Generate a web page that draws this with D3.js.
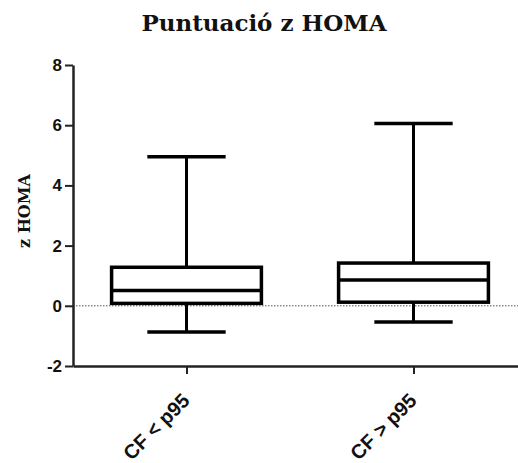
<!DOCTYPE html>
<html>
<head>
<meta charset="utf-8">
<script src="https://cdn.jsdelivr.net/npm/d3@7"></script>
<style>
  body { margin: 0; background: #fff; }
  svg { display: block; }
</style>
</head>
<body>
<svg id="chart" width="518" height="463"></svg>
<script>
// data
var groups = ["CF < p95", "CF > p95"];
var mins    = [-0.87, -0.54];
var q1s     = [0.08, 0.12];
var medians = [0.51, 0.86];
var q3s     = [1.28, 1.42];
var maxs    = [4.95, 6.06];
var yTicks  = [-2, 0, 2, 4, 6, 8];

var title = "Puntuació z HOMA";
var yLabel = "z HOMA";

var width = 518, height = 463;
var padLeft = 73, padTop = 65, axisBottom = 366;

var svg = d3.select("#chart");

var x = d3.scalePoint()
    .domain(groups)
    .range([padLeft, 527])
    .padding(0.5);

var y = d3.scaleLinear()
    .domain([-2, 8])
    .range([axisBottom, padTop]);

var boxW = x.step() * 0.66;
var capW = x.step() * 0.345;

var rows = groups.map((g, i) => ({
    name: g, min: mins[i], q1: q1s[i], med: medians[i], q3: q3s[i], max: maxs[i]
}));

// dotted zero line
svg.append("line")
    .attr("x1", padLeft).attr("x2", width)
    .attr("y1", y(0)).attr("y2", y(0))
    .attr("stroke", "#555")
    .attr("stroke-width", 1)
    .attr("stroke-dasharray", "1.5,1.5");

var box = svg.selectAll("g.box")
    .data(rows)
    .enter()
    .append("g")
    .attr("class", "box")
    .attr("stroke", "#000")
    .attr("fill", "none");

// whiskers
box.append("line")
    .attr("x1", d => x(d.name)).attr("x2", d => x(d.name))
    .attr("y1", d => y(d.max)).attr("y2", d => y(d.q3))
    .attr("stroke-width", 3);
box.append("line")
    .attr("x1", d => x(d.name)).attr("x2", d => x(d.name))
    .attr("y1", d => y(d.q1)).attr("y2", d => y(d.min))
    .attr("stroke-width", 3);

// caps
box.append("line")
    .attr("x1", d => x(d.name) - capW / 2).attr("x2", d => x(d.name) + capW / 2)
    .attr("y1", d => y(d.max)).attr("y2", d => y(d.max))
    .attr("stroke-width", 3.5);
box.append("line")
    .attr("x1", d => x(d.name) - capW / 2).attr("x2", d => x(d.name) + capW / 2)
    .attr("y1", d => y(d.min)).attr("y2", d => y(d.min))
    .attr("stroke-width", 3.5);

// box + median
box.append("rect")
    .attr("x", d => x(d.name) - boxW / 2)
    .attr("width", boxW)
    .attr("y", d => y(d.q3))
    .attr("height", d => y(d.q1) - y(d.q3))
    .attr("fill", "#fff")
    .attr("stroke-width", 3.5);
box.append("line")
    .attr("x1", d => x(d.name) - boxW / 2).attr("x2", d => x(d.name) + boxW / 2)
    .attr("y1", d => y(d.med)).attr("y2", d => y(d.med))
    .attr("stroke-width", 3.5);

// axes
var yAxis = svg.append("g")
    .attr("transform", "translate(" + padLeft + ",0)")
    .call(d3.axisLeft(y).tickValues(yTicks).tickFormat(d => String(d))
        .tickSize(8).tickPadding(3).tickSizeOuter(0));

var xAxis = svg.append("g")
    .attr("transform", "translate(0," + axisBottom + ")")
    .call(d3.axisBottom(x).tickSize(8).tickSizeOuter(0));

[yAxis, xAxis].forEach(a => {
    a.select(".domain").attr("stroke", "#222").attr("stroke-width", 2.5);
    a.selectAll(".tick line").attr("stroke", "#222").attr("stroke-width", 2);
});

yAxis.selectAll("text")
    .attr("fill", "#111")
    .style("font-family", "'Liberation Sans', Arial, sans-serif")
    .style("font-weight", "bold")
    .style("font-size", "17px");

xAxis.selectAll("text")
    .attr("fill", "#111")
    .attr("text-anchor", "end")
    .attr("x", 0)
    .attr("y", 0)
    .attr("dy", "0.35em")
    .attr("transform", "translate(-1,31) rotate(-45)")
    .style("font-family", "'Liberation Sans', Arial, sans-serif")
    .style("font-weight", "bold")
    .style("font-size", "20px");

// title + y label
svg.append("text")
    .attr("x", 264)
    .attr("y", 31)
    .attr("text-anchor", "middle")
    .style("font-family", "'DejaVu Serif', serif")
    .style("font-weight", "bold")
    .style("font-size", "23px")
    .attr("fill", "#111")
    .text(title);

svg.append("text")
    .attr("transform", "translate(30," + y(3.15) + ") rotate(-90)")
    .attr("text-anchor", "middle")
    .style("font-family", "'DejaVu Serif', serif")
    .style("font-weight", "bold")
    .style("font-size", "16px")
    .attr("fill", "#111")
    .text(yLabel);
</script>
</body>
</html>
